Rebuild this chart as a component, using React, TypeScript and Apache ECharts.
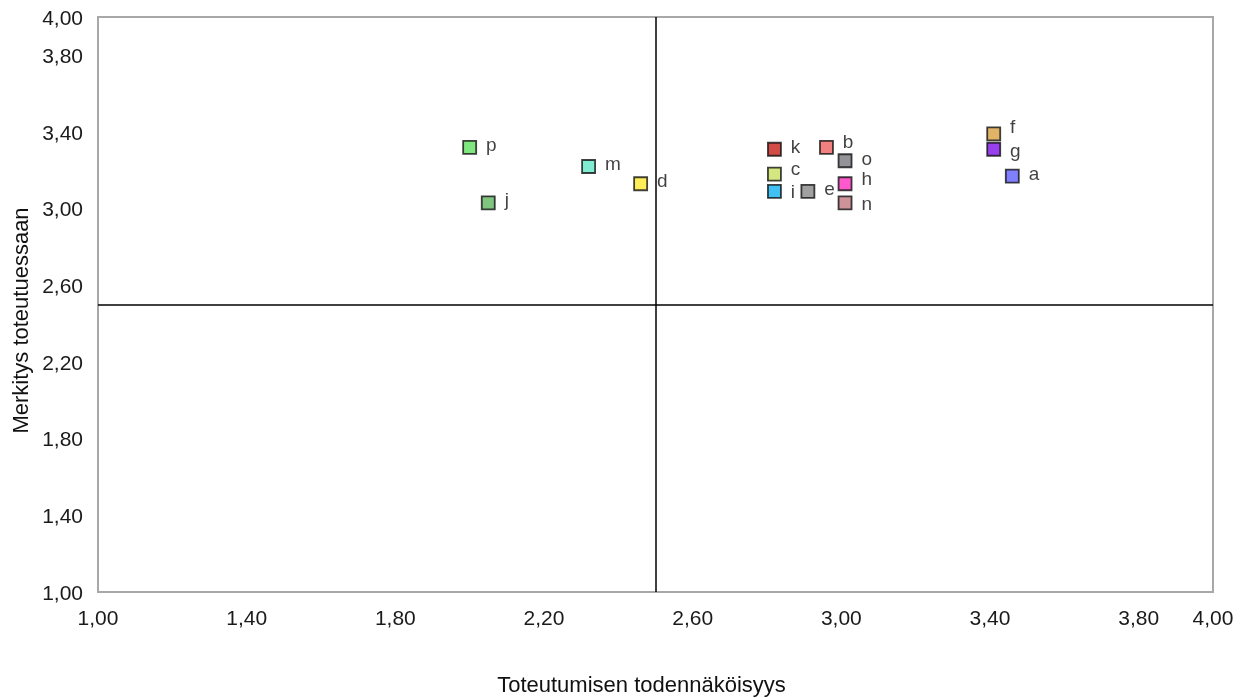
import React, { useEffect, useRef } from "react";
import * as echarts from "echarts";

const names = ["p", "j", "m", "d", "k", "b", "o", "c", "i", "e", "h", "n", "f", "g", "a"];
const xValues = [2.0, 2.05, 2.32, 2.46, 2.82, 2.96, 3.01, 2.82, 2.82, 2.91, 3.01, 3.01, 3.41, 3.41, 3.46];
const yValues = [3.32, 3.03, 3.22, 3.13, 3.31, 3.32, 3.25, 3.18, 3.09, 3.09, 3.13, 3.03, 3.39, 3.31, 3.17];
const colors = [
  "#60e060", "#60b860", "#60e8c8", "#ffe830", "#c8201a", "#f06060", "#787880", "#c8e060",
  "#10b0f0", "#888888", "#ff30c0", "#c07880", "#d8a040", "#8010e8", "#6060ff",
];
const quadrantX = 2.5;
const quadrantY = 2.5;

// label nudges (style only), keyed by point name
const labelNudge: Record<string, [number, number]> = {
  f: [0, -7],
  g: [0, 1],
  c: [0, -6],
  i: [0, 0],
  h: [0, -5],
  n: [0, 1],
  b: [0, -6],
  o: [0, -2],
};

const fmt = (v: number) => v.toFixed(2).replace(".", ",");

export default function App() {
  const ref = useRef<HTMLDivElement>(null);
  useEffect(() => {
    if (!ref.current) return;
    const chart = echarts.init(ref.current, null, { renderer: "svg" });
    const font = "'Liberation Sans', Arial, sans-serif";
    chart.setOption({
      animation: false,
      textStyle: { fontFamily: font },
      grid: {
        left: 98,
        right: 32,
        top: 17,
        bottom: 106,
        show: true,
        borderColor: "#a8a8a8",
        borderWidth: 2,
        outerBoundsMode: "none",
        containLabel: false,
      },
      xAxis: {
        type: "value",
        min: 1,
        max: 4,
        interval: 0.4,
        name: "Toteutumisen todennäköisyys",
        nameLocation: "middle",
        nameGap: 81,
        nameTextStyle: { fontSize: 22, color: "#111", fontFamily: font, padding: [0, 28, 0, 0] },
        axisLine: { show: false },
        axisTick: { show: false },
        splitLine: { show: false },
        axisLabel: { formatter: fmt, fontSize: 21, color: "#1a1a1a", margin: 15, fontFamily: font },
      },
      yAxis: {
        type: "value",
        min: 1,
        max: 4,
        interval: 0.4,
        name: "Merkitys toteutuessaan",
        nameLocation: "middle",
        nameGap: 66,
        nameTextStyle: { fontSize: 22, color: "#111", fontFamily: font, padding: [0, 32, 0, 0] },
        axisLine: { show: false },
        axisTick: { show: false },
        splitLine: { show: false },
        axisLabel: { formatter: fmt, fontSize: 21, color: "#1a1a1a", margin: 15, fontFamily: font },
      },
      series: [
        {
          type: "scatter",
          symbol: "rect",
          symbolSize: 13,
          data: names.map((n, i) => ({
            name: n,
            value: [xValues[i], yValues[i]],
            itemStyle: { color: colors[i], borderColor: "#111", borderWidth: 1.8 },
            label: { offset: labelNudge[n] || [0, -3] },
          })),
          label: {
            show: true,
            position: "right",
            distance: 9,
            formatter: (p: any) => p.name,
            fontSize: 19,
            lineHeight: 14,
            color: "#111",
            fontFamily: font,
          },
          markLine: {
            silent: true,
            symbol: ["none", "none"],
            label: { show: false },
            lineStyle: { color: "#000", width: 1.5, type: "solid" },
            data: [{ xAxis: quadrantX }, { yAxis: quadrantY }],
          },
        },
      ],
    });
    return () => chart.dispose();
  }, []);
  return (
    <div
      ref={ref}
      style={{ position: "fixed", left: 0, top: 0, width: 1245, height: 698 }}
    />
  );
}
